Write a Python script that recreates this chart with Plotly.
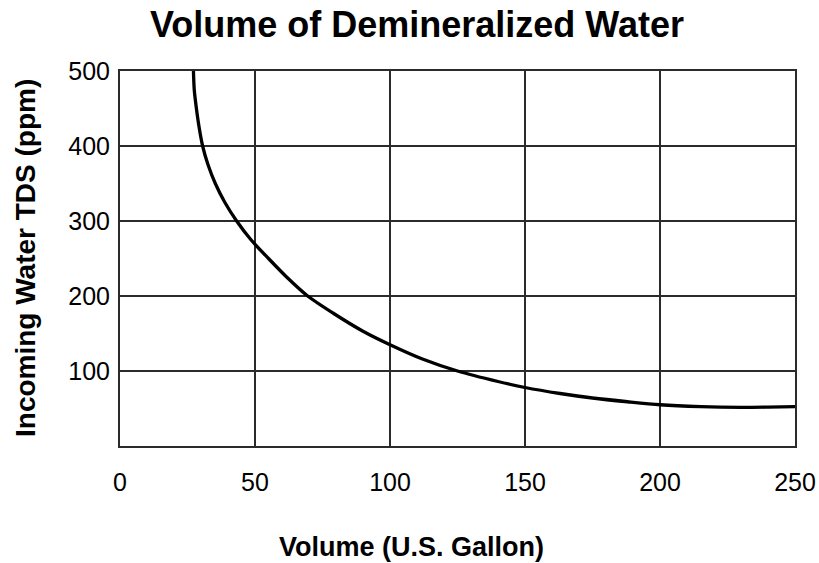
import plotly.graph_objects as go

# Curve data (Volume in U.S. gallons vs incoming water TDS in ppm)
volume_gal = [27.2, 27.5, 28.3, 29.3, 30.6, 32.6, 35.3, 38.8, 43.2, 48.5, 55, 61.8,
              69.5, 79, 90, 100, 112, 125, 140, 150, 163, 175, 188, 200, 215, 230,
              240, 250]
tds_ppm = [500, 475, 450, 425, 400, 375, 350, 325, 300, 275, 250, 225,
           200, 177, 153, 135, 116, 100, 86, 78, 70, 64, 59, 55, 52.5, 51.5,
           51.8, 52.4]

x_ticks = [0, 50, 100, 150, 200, 250]
y_ticks = [100, 200, 300, 400, 500]

title_text = "Volume of Demineralized Water"
x_title = "Volume (U.S. Gallon)"
y_title = "Incoming Water TDS (ppm)"

FONT = "Liberation Sans, Arial, Helvetica, sans-serif"
GRID = "#2b2b2b"

fig = go.Figure()
fig.add_trace(go.Scatter(
    x=volume_gal, y=tds_ppm, mode="lines",
    line=dict(color="black", width=3.3, shape="spline", smoothing=0.8),
    hoverinfo="skip", showlegend=False,
))

fig.update_layout(
    width=819, height=563,
    margin=dict(l=120, r=24, t=71, b=117, autoexpand=False),
    paper_bgcolor="white", plot_bgcolor="white",
    font=dict(family=FONT, color="black"),
    title=dict(text="<b>" + title_text + "</b>", x=417 / 819, xref="container",
               xanchor="center", y=1 - 24 / 563, yref="container", yanchor="middle",
               font=dict(size=36, family=FONT, color="black")),
    xaxis=dict(range=[0, 250], tickvals=x_ticks, ticktext=[str(v) for v in x_ticks],
               showgrid=True, gridcolor=GRID, gridwidth=2, automargin=False,
               showline=True, linecolor=GRID, linewidth=2, mirror=True,
               zeroline=False, ticks="", ticklabelstandoff=13,
               tickfont=dict(size=25, family=FONT, color="black"), fixedrange=True),
    yaxis=dict(range=[0, 500], tickvals=y_ticks, ticktext=[str(v) for v in y_ticks],
               showgrid=True, gridcolor=GRID, gridwidth=2, automargin=False,
               showline=True, linecolor=GRID, linewidth=2, mirror=True,
               zeroline=False, ticks="", ticklabelstandoff=3,
               tickfont=dict(size=25, family=FONT, color="black"), fixedrange=True),
    annotations=[
        dict(text="<b>" + x_title + "</b>", xref="paper", yref="paper",
             x=(411 - 120) / 675, y=(446 - 547) / 375, xanchor="center", yanchor="middle",
             showarrow=False, font=dict(size=27, family=FONT, color="black")),
        dict(text="<b>" + y_title + "</b>", xref="paper", yref="paper",
             x=(25 - 120) / 675, y=(446 - 258) / 375, xanchor="center", yanchor="middle",
             textangle=-90, showarrow=False, font=dict(size=28, family=FONT, color="black")),
    ],
)

fig.write_html("out.html", config={"displayModeBar": False},
               post_script="document.body.style.margin='0';document.body.style.overflow='hidden';")
